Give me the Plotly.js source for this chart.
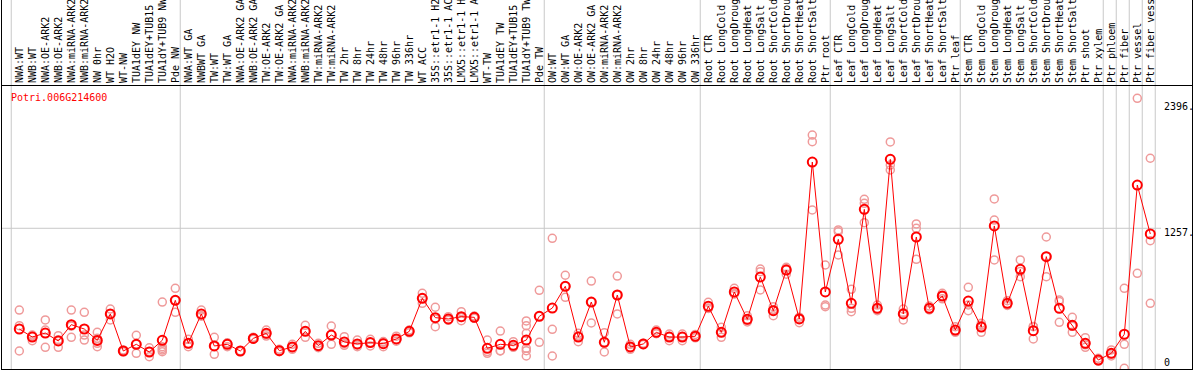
<!DOCTYPE html>
<html><head><meta charset="utf-8">
<script src="https://cdn.plot.ly/plotly-3.0.1.min.js"></script>
<style>html,body{margin:0;padding:0;background:#fff;}#chart{width:1194px;height:370px;}</style>
</head><body><div id="chart"></div>
<script>
const geneId = "Potri.006G214600";

const labels = [
"NWA:WT","NWB:WT","NWA:OE-ARK2","NWB:OE-ARK2","NWA:miRNA-ARK2","NWB:miRNA-ARK2","NW 0hr","WT H2O","WT-NW","TUA1dEY NW","TUA1dEY+TUB15","TUA1dY+TUB9 NW","Pde NW",
"NWA:WT GA","NWBWT GA","TW:WT","TW:WT GA","NWA:OE-ARK2 GA","NWB:OE-ARK2 GA","TW:OE-ARK2","TW:OE-ARK2 GA","NWA:miRNA-ARK2","NWB:miRNA-ARK2","TW:miRNA-ARK2","TW:miRNA-ARK2","TW 2hr","TW 8hr","TW 24hr","TW 48hr","TW 96hr","TW 336hr","WT ACC","35S::etr1-1 H2","35S::etr1-1 AC","LMX5::etr1-1 H","LMX5::etr1-1 A","WT-TW","TUA1dEY TW","TUA1dEY+TUB15","TUA1dY+TUB9 TW","Pde TW",
"OW:WT","OW:WT GA","OW:OE-ARK2","OW:OE-ARK2 GA","OW:miRNA-ARK2","OW:miRNA-ARK2","OW 2hr","OW 8hr","OW 24hr","OW 48hr","OW 96hr","OW 336hr",
"Root CTR","Root LongCold","Root LongDroug","Root LongHeat","Root LongSalt","Root ShortCold","Root ShortDrou","Root ShortHeat","Root ShortSalt","Ptr root",
"Leaf CTR","Leaf LongCold","Leaf LongDroug","Leaf LongHeat","Leaf LongSalt","Leaf ShortCold","Leaf ShortDrou","Leaf ShortHeat","Leaf ShortSalt","Ptr leaf",
"Stem CTR","Stem LongCold","Stem LongDroug","Stem LongHeat","Stem LongSalt","Stem ShortCold","Stem ShortDrou","Stem ShortHeat","Stem ShortSalt","Ptr shoot","Ptr xylem",
"Ptr phloem","Ptr fiber","Ptr vessel","Ptr fiber vess"
];

const means = [
354,282,318,247,393,354,252,489,157,217,148,253,611,
226,489,202,217,157,270,315,160,193,333,205,300,238,220,232,223,265,333,629,456,444,465,459,181,217,208,255,468,
542,737,282,596,235,659,193,220,324,282,282,289,
558,324,686,441,820,518,883,444,1851,686,
1158,584,1427,540,1875,489,1179,540,650,345,
605,372,1278,584,889,339,1003,540,387,226,76,
136,307,1645,1206
];

const replicates = [
[524,384,157],[291,249,300],[435,345,190],[294,190,257],[524,280,380],[504,300,255],[324,271,247,226,195],[533,435,490],[166,151,157],[298,136,217],[186,106,152],[596,195,180,165,151],[719,504,611],
[262,195,221],[524,470,473],[280,127,199],[226,195,230],[160,152,158],[280,262,268],[345,291,309],[172,151,157],[217,172,190],[387,280,332],[226,186,203],[381,217,302],[285,208,222],[255,195,210],[262,202,232],[241,195,233],[290,245,260],[345,320,334],[674,584,629],[549,375,444],[465,435,432],[509,429,457],[470,450,457],[255,136,152],[336,157,160],[240,195,190],[426,384,315,181,160,112],[701,235,468],
[1167,351,112],[836,638,737],[315,240,291],[784,408,596],[321,148,236],[829,489,659],[217,172,190],[226,215,219],[345,315,312],[309,249,288],[309,249,288],[305,275,287],
[593,539,542],[369,280,323],[719,670,669],[473,417,433],[892,868,704],[554,473,527],[907,845,897],[411,444,460],[2093,2034,1421],[928,569,554],
[1242,1227,1018],[710,540,509],[1517,1481,1307],[569,518,533],[2031,1824,1780],[533,435,500],[1296,1257,979],[560,525,535],[674,625,650],[375,324,336],
[728,518,570],[405,324,387],[1520,1331,973],[608,565,580],[973,823,870],[375,265,377],[1179,823,1007],[614,600,414],[459,324,378],[276,190,212],[91,66,72],
[166,112,130],[719,217,2],[2422,853],[1885,1146,584]
];

const groupLastIndex = [-1, 12, 40, 52, 62, 72, 83, 84, 85, 86, 87];
const yTickValues = [0, 1257, 2396];
const yTickText = ["0", "1257.", "2396."];

const W = 1194, H = 370;
const M = {l: 2, r: 2, t: 86, b: 1};
const plotW = W - M.l - M.r, plotH = H - M.t - M.b;
const pxPerCat = 13;
const firstCatPx = 19.3;
const xMin = -(firstCatPx - M.l) / pxPerCat;
const xMax = xMin + plotW / pxPerCat;
const pxPerUnit = 0.11154;
const zeroPx = 368.5;
const yMax = (zeroPx - M.t) / pxPerUnit;
const yMin = yMax - plotH / pxPerUnit;
const paperY = p => (H - M.b - p) / plotH;
const paperX = p => (p - M.l) / plotW;

const idx = labels.map((_, i) => i);
const repX = [], repY = [];
replicates.forEach((r, i) => r.forEach(v => { repX.push(i); repY.push(v); }));

const mono = "DejaVu Sans Mono, Liberation Mono, monospace";

const traces = [
  {x: repX, y: repY, type: 'scatter', mode: 'markers', hoverinfo: 'skip',
   marker: {symbol: 'circle-open', size: 8, color: '#ef9a9a', line: {width: 1.5, color: '#ef9a9a'}}},
  {x: idx, y: means, type: 'scatter', mode: 'lines+markers',
   line: {color: '#ff0000', width: 1},
   marker: {symbol: 'circle-open', size: 9, color: '#ff0000', line: {width: 2, color: '#ff0000'}}}
];

const shapes = [];
groupLastIndex.forEach(g => {
  shapes.push({type: 'line', xref: 'x', yref: 'paper', x0: g + 0.38, x1: g + 0.38, y0: 0, y1: paperY(0),
    line: {color: '#c8c8c8', width: 1}, layer: 'below'});
});
shapes.push({type: 'line', xref: 'paper', yref: 'y', x0: 0, x1: paperX(1161), y0: yTickValues[1], y1: yTickValues[1],
  line: {color: '#c8c8c8', width: 1}, layer: 'below'});
shapes.push({type: 'line', xref: 'paper', yref: 'paper', x0: paperX(1.5), x1: paperX(1.5), y0: 1, y1: paperY(0), line: {color: '#000', width: 1}});
shapes.push({type: 'line', xref: 'paper', yref: 'paper', x0: paperX(1192.5), x1: paperX(1192.5), y0: 1, y1: paperY(0), line: {color: '#000', width: 1}});

const tickShift = [6, -4, -5.5];
const annotations = yTickValues.map((v, k) => ({
  xref: 'paper', yref: 'y', x: paperX(1162), y: v, text: yTickText[k], showarrow: false,
  xanchor: 'left', yanchor: 'middle', yshift: tickShift[k], font: {family: mono, size: 10, color: '#000'}
}));
annotations.push({xref: 'paper', yref: 'paper', x: paperX(8.5), y: paperY(97.3), text: geneId, showarrow: false,
  xanchor: 'left', yanchor: 'middle', font: {family: mono, size: 10, color: '#ff0000'}});

const layout = {
  width: W, height: H, margin: M, showlegend: false,
  paper_bgcolor: '#fff', plot_bgcolor: '#fff',
  xaxis: {range: [xMin, xMax], side: 'top', tickmode: 'array', tickvals: idx, ticktext: labels,
    tickangle: -90, ticks: '', showgrid: false, zeroline: false, showline: true, mirror: true,
    linecolor: '#000', linewidth: 1, tickfont: {family: mono, size: 10, color: '#000'}, automargin: false, fixedrange: true},
  yaxis: {range: [yMin, yMax], showticklabels: false, ticks: '', showgrid: false, zeroline: false,
    showline: true, mirror: true, linecolor: '#000', linewidth: 1, automargin: false, fixedrange: true},
  shapes: shapes, annotations: annotations, hovermode: false
};

Plotly.newPlot('chart', traces, layout, {staticPlot: true, displayModeBar: false});
</script>
</body></html>
